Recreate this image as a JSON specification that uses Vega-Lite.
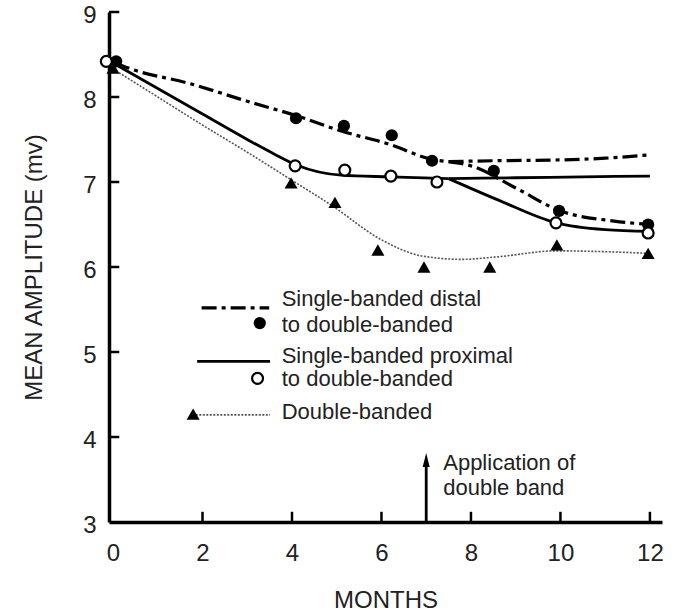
{
  "$schema": "https://vega.github.io/schema/vega-lite/v6.json",
  "width": 553,
  "height": 510,
  "autosize": "none",
  "padding": {"left": 109, "top": 12, "right": 11, "bottom": 92},
  "background": "white",
  "config": {
    "view": {"stroke": null},
    "font": "Liberation Sans",
    "axis": {
      "grid": false,
      "ticks": false,
      "domainColor": "black",
      "domainWidth": 3.5,
      "labelFont": "Liberation Sans",
      "labelFontSize": 24,
      "labelColor": "#222",
      "titleFont": "Liberation Sans",
      "titleFontSize": 24,
      "titleFontWeight": "normal",
      "titleColor": "#222"
    }
  },
  "datasets": {
    "lines": [
      {"series": "distal_main", "style": "dashdot", "x": 0.05, "y": 8.4},
      {"series": "distal_main", "style": "dashdot", "x": 0.4, "y": 8.33},
      {"series": "distal_main", "style": "dashdot", "x": 1.7, "y": 8.16},
      {"series": "distal_main", "style": "dashdot", "x": 3.0, "y": 7.95},
      {"series": "distal_main", "style": "dashdot", "x": 4.1, "y": 7.78},
      {"series": "distal_main", "style": "dashdot", "x": 5.1, "y": 7.6},
      {"series": "distal_main", "style": "dashdot", "x": 6.2, "y": 7.44},
      {"series": "distal_main", "style": "dashdot", "x": 7.1, "y": 7.27},
      {"series": "distal_main", "style": "dashdot", "x": 7.5, "y": 7.24},
      {"series": "distal_flat", "style": "dashdot", "x": 7.5, "y": 7.24},
      {"series": "distal_flat", "style": "dashdot", "x": 8.5, "y": 7.25},
      {"series": "distal_flat", "style": "dashdot", "x": 10.0, "y": 7.26},
      {"series": "distal_flat", "style": "dashdot", "x": 11.0, "y": 7.28},
      {"series": "distal_flat", "style": "dashdot", "x": 12.0, "y": 7.32},
      {"series": "distal_down", "style": "dashdot", "x": 7.5, "y": 7.24},
      {"series": "distal_down", "style": "dashdot", "x": 8.0, "y": 7.19},
      {"series": "distal_down", "style": "dashdot", "x": 9.0, "y": 6.93},
      {"series": "distal_down", "style": "dashdot", "x": 10.0, "y": 6.66},
      {"series": "distal_down", "style": "dashdot", "x": 11.2, "y": 6.54},
      {"series": "distal_down", "style": "dashdot", "x": 12.0, "y": 6.5},
      {"series": "prox_main", "style": "solid", "x": 0.0, "y": 8.4},
      {"series": "prox_main", "style": "solid", "x": 1.0, "y": 8.1},
      {"series": "prox_main", "style": "solid", "x": 2.0, "y": 7.8},
      {"series": "prox_main", "style": "solid", "x": 3.0, "y": 7.5},
      {"series": "prox_main", "style": "solid", "x": 3.6, "y": 7.33},
      {"series": "prox_main", "style": "solid", "x": 4.1, "y": 7.2},
      {"series": "prox_main", "style": "solid", "x": 5.1, "y": 7.08},
      {"series": "prox_main", "style": "solid", "x": 6.2, "y": 7.06},
      {"series": "prox_main", "style": "solid", "x": 7.5, "y": 7.04},
      {"series": "prox_flat", "style": "solid", "x": 7.5, "y": 7.04},
      {"series": "prox_flat", "style": "solid", "x": 9.0, "y": 7.05},
      {"series": "prox_flat", "style": "solid", "x": 10.5, "y": 7.06},
      {"series": "prox_flat", "style": "solid", "x": 12.0, "y": 7.07},
      {"series": "prox_down", "style": "solid", "x": 7.5, "y": 7.04},
      {"series": "prox_down", "style": "solid", "x": 8.6, "y": 6.79},
      {"series": "prox_down", "style": "solid", "x": 9.9, "y": 6.52},
      {"series": "prox_down", "style": "solid", "x": 11.0, "y": 6.44},
      {"series": "prox_down", "style": "solid", "x": 12.0, "y": 6.42},
      {"series": "double", "style": "dotted", "x": 0.0, "y": 8.33},
      {"series": "double", "style": "dotted", "x": 1.0, "y": 8.0},
      {"series": "double", "style": "dotted", "x": 2.0, "y": 7.67},
      {"series": "double", "style": "dotted", "x": 3.0, "y": 7.35},
      {"series": "double", "style": "dotted", "x": 4.0, "y": 7.02},
      {"series": "double", "style": "dotted", "x": 4.9, "y": 6.72},
      {"series": "double", "style": "dotted", "x": 6.0, "y": 6.32},
      {"series": "double", "style": "dotted", "x": 6.9, "y": 6.13},
      {"series": "double", "style": "dotted", "x": 7.8, "y": 6.09},
      {"series": "double", "style": "dotted", "x": 8.6, "y": 6.12},
      {"series": "double", "style": "dotted", "x": 9.9, "y": 6.19},
      {"series": "double", "style": "dotted", "x": 11.0, "y": 6.18},
      {"series": "double", "style": "dotted", "x": 12.0, "y": 6.16},
      {"series": "leg_dd", "style": "dashdot", "x": 1.98, "y": 5.52},
      {"series": "leg_dd", "style": "dashdot", "x": 3.49, "y": 5.52},
      {"series": "leg_solid", "style": "solid", "x": 1.88, "y": 4.89},
      {"series": "leg_solid", "style": "solid", "x": 3.51, "y": 4.89},
      {"series": "leg_dot", "style": "dotted", "x": 1.85, "y": 4.26},
      {"series": "leg_dot", "style": "dotted", "x": 3.51, "y": 4.26}
    ],
    "pts": [
      {"group": "distal", "x": 0.07, "y": 8.42},
      {"group": "distal", "x": 4.09, "y": 7.75},
      {"group": "distal", "x": 5.16, "y": 7.66},
      {"group": "distal", "x": 6.23, "y": 7.55},
      {"group": "distal", "x": 7.13, "y": 7.25},
      {"group": "distal", "x": 8.51, "y": 7.13},
      {"group": "distal", "x": 9.97, "y": 6.66},
      {"group": "distal", "x": 11.96, "y": 6.5},
      {"group": "distal", "x": 3.28, "y": 5.34},
      {"group": "proximal", "x": -0.15, "y": 8.42},
      {"group": "proximal", "x": 4.07, "y": 7.19},
      {"group": "proximal", "x": 5.18, "y": 7.14},
      {"group": "proximal", "x": 6.21, "y": 7.07},
      {"group": "proximal", "x": 7.24, "y": 7.0},
      {"group": "proximal", "x": 9.9, "y": 6.52},
      {"group": "proximal", "x": 11.96, "y": 6.4},
      {"group": "proximal", "x": 3.23, "y": 4.69},
      {"group": "double", "x": 0.0, "y": 8.34},
      {"group": "double", "x": 3.98, "y": 6.99},
      {"group": "double", "x": 4.96, "y": 6.76},
      {"group": "double", "x": 5.92, "y": 6.2},
      {"group": "double", "x": 6.95, "y": 6.0},
      {"group": "double", "x": 8.42, "y": 6.0},
      {"group": "double", "x": 9.92, "y": 6.26},
      {"group": "double", "x": 11.96, "y": 6.16},
      {"group": "double", "x": 1.79, "y": 4.27}
    ],
    "texts": [
      {"text": "Single-banded distal", "x": 3.77, "y": 5.54},
      {"text": "to double-banded", "x": 3.77, "y": 5.24},
      {"text": "Single-banded proximal", "x": 3.77, "y": 4.87},
      {"text": "to double-banded", "x": 3.77, "y": 4.6},
      {"text": "Double-banded", "x": 3.77, "y": 4.21},
      {"text": "Application of", "x": 7.38, "y": 3.612},
      {"text": "double band", "x": 7.38, "y": 3.312}
    ],
    "arrow": [
      {"x": 7, "y": 3.0, "y2": 3.7, "tip": 3.73}
    ],
    "xticks": [
      {"v": 2, "lo": 3, "hi": 3.12}, {"v": 4, "lo": 3, "hi": 3.12}, {"v": 6, "lo": 3, "hi": 3.12},
      {"v": 8, "lo": 3, "hi": 3.12}, {"v": 10, "lo": 3, "hi": 3.12}, {"v": 12, "lo": 3, "hi": 3.12}
    ],
    "yticks": [
      {"v": 4, "lo": -0.09, "hi": 0.14}, {"v": 5, "lo": -0.09, "hi": 0.14}, {"v": 6, "lo": -0.09, "hi": 0.14},
      {"v": 7, "lo": -0.09, "hi": 0.14}, {"v": 8, "lo": -0.09, "hi": 0.14}, {"v": 9, "lo": -0.09, "hi": 0.14}
    ]
  },
  "encoding": {
    "x": {
      "field": "x", "type": "quantitative",
      "scale": {"domain": [-0.09, 12.27], "nice": false, "zero": false},
      "axis": {"values": [0, 2, 4, 6, 8, 10, 12], "title": "MONTHS", "labelPadding": 19, "titlePadding": 23}
    },
    "y": {
      "field": "y", "type": "quantitative",
      "scale": {"domain": [3, 9], "nice": false, "zero": false},
      "axis": {"values": [3, 4, 5, 6, 7, 8, 9], "title": "MEAN AMPLITUDE (mv)", "labelPadding": 13, "labelOffset": 3, "titlePadding": 36}
    }
  },
  "layer": [
    {
      "data": {"name": "xticks"},
      "mark": {"type": "rule", "color": "black", "strokeWidth": 2.5},
      "encoding": {"x": {"field": "v", "type": "quantitative"}, "y": {"field": "lo", "type": "quantitative"}, "y2": {"field": "hi"}}
    },
    {
      "data": {"name": "yticks"},
      "mark": {"type": "rule", "color": "black", "strokeWidth": 2.5},
      "encoding": {"y": {"field": "v", "type": "quantitative"}, "x": {"field": "lo", "type": "quantitative"}, "x2": {"field": "hi"}}
    },
    {
      "data": {"name": "lines"},
      "transform": [{"filter": "datum.style === 'dotted'"}],
      "mark": {"type": "line", "interpolate": "monotone", "color": "#555", "strokeWidth": 1.6, "strokeDash": [2, 1.5]},
      "encoding": {"detail": {"field": "series"}, "order": {"field": "x"}}
    },
    {
      "data": {"name": "lines"},
      "transform": [{"filter": "datum.style === 'solid'"}],
      "mark": {"type": "line", "interpolate": "monotone", "color": "black", "strokeWidth": 2.8},
      "encoding": {"detail": {"field": "series"}, "order": {"field": "x"}}
    },
    {
      "data": {"name": "lines"},
      "transform": [{"filter": "datum.style === 'dashdot'"}],
      "mark": {"type": "line", "interpolate": "monotone", "color": "black", "strokeWidth": 3.2, "strokeDash": [15, 5, 4, 5]},
      "encoding": {"detail": {"field": "series"}, "order": {"field": "x"}}
    },
    {
      "data": {"name": "pts"},
      "transform": [{"filter": "datum.group === 'distal'"}],
      "mark": {"type": "point", "shape": "circle", "filled": true, "color": "black", "size": 150, "opacity": 1}
    },
    {
      "data": {"name": "pts"},
      "transform": [{"filter": "datum.group === 'proximal'"}],
      "mark": {"type": "point", "shape": "circle", "filled": true, "fill": "white", "stroke": "black", "strokeWidth": 2.2, "size": 120, "opacity": 1}
    },
    {
      "data": {"name": "pts"},
      "transform": [{"filter": "datum.group === 'double'"}],
      "mark": {"type": "point", "shape": "triangle-up", "filled": true, "color": "black", "size": 170, "opacity": 1}
    },
    {
      "data": {"name": "arrow"},
      "mark": {"type": "rule", "color": "black", "strokeWidth": 2.8},
      "encoding": {"y2": {"field": "y2"}}
    },
    {
      "data": {"name": "arrow"},
      "mark": {"type": "point", "shape": "M0,-1L-0.5,1L0.5,1Z", "filled": true, "color": "black", "size": 196, "opacity": 1},
      "encoding": {"y": {"field": "tip", "type": "quantitative"}}
    },
    {
      "data": {"name": "texts"},
      "mark": {"type": "text", "align": "left", "baseline": "alphabetic", "fontSize": 22, "color": "#222", "font": "Liberation Sans"},
      "encoding": {"text": {"field": "text"}}
    }
  ]
}
